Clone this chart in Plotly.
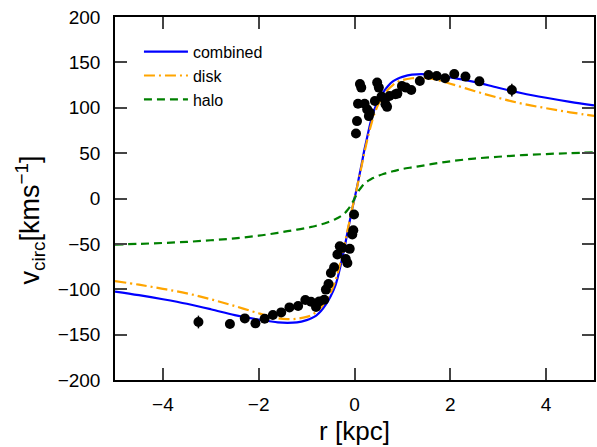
import plotly.graph_objects as go

# ---- observed rotation-curve data (r [kpc], v [km/s]) ----
obs_r = [0.031, 0.052, 0.073, 0.114, 0.141, 0.211, 0.265, 0.30, 0.32, 0.425,
         0.473, 0.508, 0.564, 0.632, 0.647, 0.68, 0.73, 0.854, 0.895, 0.99,
         1.074, 1.185, 1.364, 1.544, 1.716, 1.89, 2.083, 2.317, 2.607, 3.285,
         -3.258, -2.601, -2.29, -2.068, -1.876, -1.704, -1.53, -1.358, -1.177, -1.026,
         -0.908, -0.804, -0.736, -0.632, -0.597, -0.543, -0.493, -0.425, -0.357, -0.307,
         -0.253, -0.182, -0.149, -0.10, -0.046, -0.025, -0.01]
obs_v = [71.7, 85.3, 104.5, 126.2, 122.2, 104.5, 98.2, 90.8, 94.6, 107.4,
         127.7, 122.2, 112.3, 109.3, 103.8, 101.0, 112.9, 114.8, 115.6, 124.0,
         122.2, 119.5, 129.5, 136.1, 135.0, 132.5, 137.2, 134.3, 129.1, 119.5,
         -136.1, -138.3, -132.1, -137.6, -132.5, -128.4, -125.5, -120.0, -118.4, -111.8,
         -113.7, -119.5, -113.4, -111.5, -100.4, -94.2, -82.0, -75.8, -61.8, -52.6,
         -54.4, -66.6, -71.0, -55.5, -39.7, -35.0, -17.7]
obs_err = [0] * 29 + [7] + [7] + [0] * 26

# ---- model curves ----
model_r = [-5.0, -4.5, -4.0, -3.5, -3.0, -2.5, -2.0, -1.8, -1.6, -1.4, -1.2, -1.0,
           -0.9, -0.8, -0.7, -0.6, -0.5, -0.4, -0.35, -0.3, -0.25, -0.2, -0.15, -0.1, -0.05,
           0.0, 0.05, 0.1, 0.15, 0.2, 0.25, 0.3, 0.35, 0.4, 0.5, 0.6, 0.7, 0.8, 0.9,
           1.0, 1.2, 1.4, 1.6, 1.8, 2.0, 2.5, 3.0, 3.5, 4.0, 4.5, 5.0]
combined_v = [-102.5, -106.5, -111, -116, -122, -128.5, -133.5, -135, -136.5, -137, -136.5, -134,
              -132, -129, -124, -117, -108, -96, -87, -76, -64, -52, -38, -25, -12,
              0, 12, 25, 38, 52, 64, 76, 87, 96, 108, 117, 124, 129, 132,
              134, 136.5, 137, 136.5, 135, 133.5, 128.5, 122, 116, 111, 106.5, 102.5]
disk_v = [-91, -95, -99.5, -104.5, -111, -118.5, -126.5, -129.5, -132, -133, -132.5, -130.5,
          -128.5, -125, -120, -113, -104, -91, -82, -72, -61, -49, -36, -24, -11.5,
          0, 11.5, 24, 36, 49, 61, 72, 82, 91, 104, 113, 120, 125, 128.5,
          130.5, 132.5, 133, 132, 129.5, 126.5, 118.5, 111, 104.5, 99.5, 95, 91]
halo_v = [-50.8, -50, -49, -47.8, -46, -44, -41, -39.5, -37.8, -36, -34.3, -32.5,
          -31.3, -30, -28.5, -27, -25, -22.8, -21.5, -20, -18.2, -16, -13, -9.5, -5,
          0, 5, 9.5, 13, 16, 18.2, 20, 21.5, 22.8, 25, 27, 28.5, 30, 31.3,
          32.5, 34.3, 36, 37.8, 39.5, 41, 44, 46, 47.8, 49, 50, 50.8]

x_ticks = [-4, -2, 0, 2, 4]
y_ticks = [-200, -150, -100, -50, 0, 50, 100, 150, 200]

FONT = "Liberation Sans, Arial, Helvetica, sans-serif"

fig = go.Figure()
fig.add_trace(go.Scatter(x=model_r, y=combined_v, mode="lines", name="combined",
                         line=dict(color="#0000ff", width=2.2, shape="spline")))
fig.add_trace(go.Scatter(x=model_r, y=disk_v, mode="lines", name="disk",
                         line=dict(color="#ffa500", width=2.2, dash="11px,4px,2px,4px", shape="spline")))
fig.add_trace(go.Scatter(x=model_r, y=halo_v, mode="lines", name="halo",
                         line=dict(color="#008000", width=2.2, dash="8px,5px", shape="spline")))
fig.add_trace(go.Scatter(x=obs_r, y=obs_v, mode="markers", showlegend=False,
                         marker=dict(color="black", size=10),
                         error_y=dict(type="data", array=obs_err, visible=True,
                                      color="black", thickness=1.5, width=0)))

fig.add_annotation(text="v<sub>circ</sub>[kms<sup>−1</sup>]", textangle=-90,
                   xref="paper", yref="paper", x=-0.177, y=0.44,
                   xanchor="center", yanchor="middle", showarrow=False,
                   font=dict(size=27, family=FONT, color="black"))

fig.update_layout(
    width=597, height=447,
    margin=dict(l=115, r=1, t=17, b=67),
    paper_bgcolor="white", plot_bgcolor="white",
    font=dict(family=FONT, color="black", size=18),
    showlegend=True,
    legend=dict(x=0.05, y=0.951, xanchor="left", yanchor="top",
                bgcolor="rgba(0,0,0,0)", font=dict(size=16, family=FONT),
                itemwidth=44, tracegroupgap=0),
    xaxis=dict(range=[-5, 5], tickvals=x_ticks, ticks="inside", ticklen=12, tickwidth=1.5,
               showline=True, linecolor="black", linewidth=1.5, mirror="ticks",
               showgrid=False, zeroline=False, tickfont=dict(size=19),
               ticklabelstandoff=6,
               title=dict(text="r [kpc]", font=dict(size=26), standoff=8)),
    yaxis=dict(range=[-200, 200], tickvals=y_ticks, ticks="inside", ticklen=12, tickwidth=1.5,
               showline=True, linecolor="black", linewidth=1.5, mirror="ticks",
               showgrid=False, zeroline=False, tickfont=dict(size=19),
               ticklabelstandoff=9),
)

fig.write_html("out.html")
